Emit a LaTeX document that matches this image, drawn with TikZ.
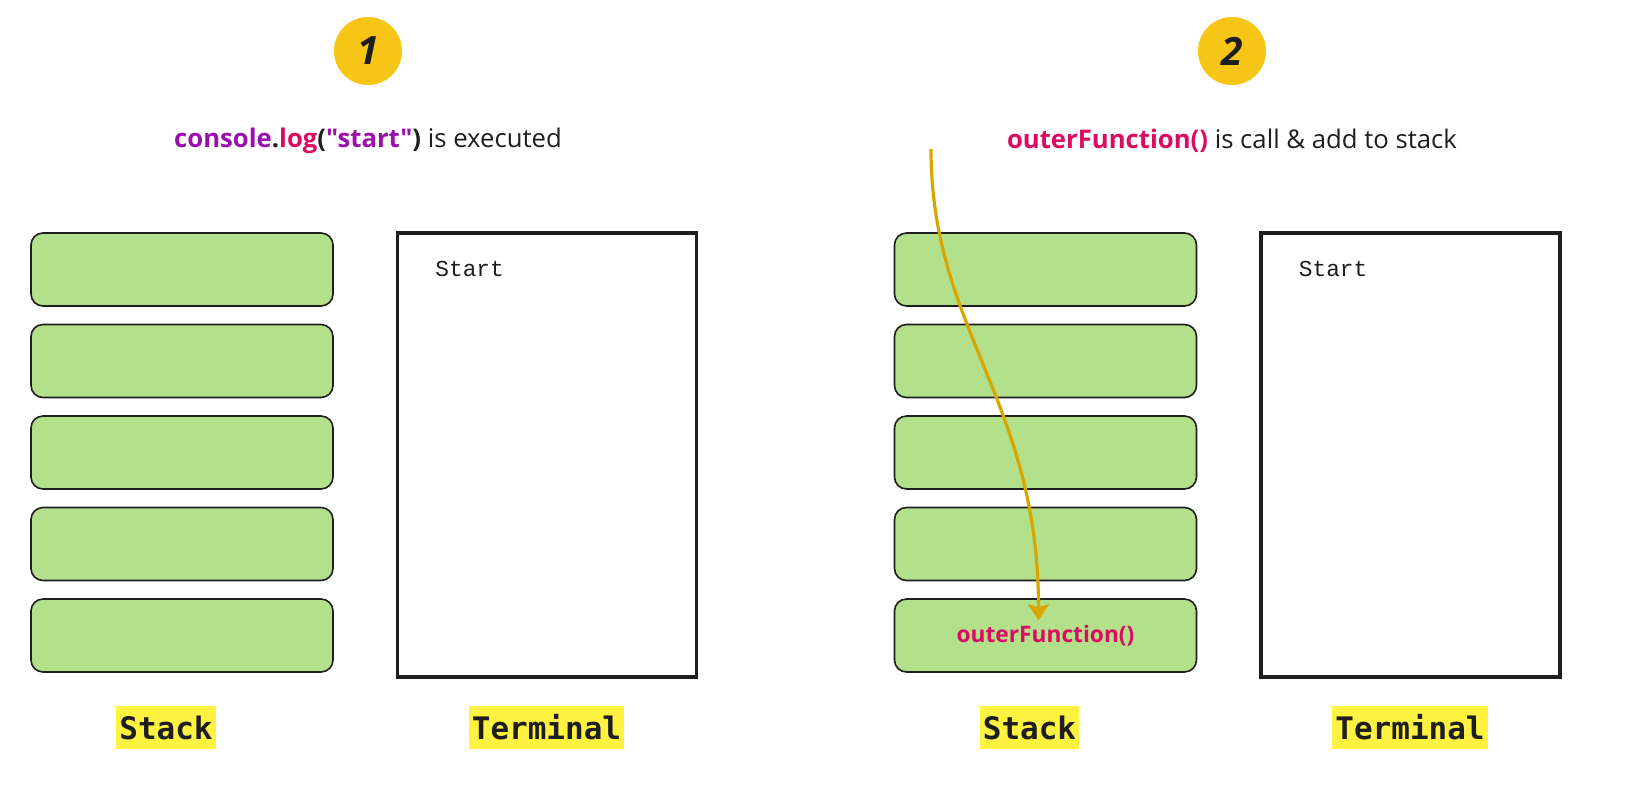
\documentclass[tikz,border=0pt]{standalone}
\usepackage{fontspec}
\setmainfont{Open Sans}[Ligatures=TeXOff]
\newfontfamily\termfont{Liberation Mono}
\newfontfamily\capfont{DejaVu Sans Mono}
\usepackage{xcolor}
\usetikzlibrary{arrows.meta, positioning}

\definecolor{StackGreen}{HTML}{B3E08A}
\definecolor{MarkYellow}{HTML}{FFF240}
\definecolor{StepGold}{HTML}{F7C516}
\definecolor{CodePurple}{HTML}{9A10AA}
\definecolor{CodeRed}{HTML}{DE0A62}
\definecolor{ArrowGold}{HTML}{D9A600}
\definecolor{Ink}{HTML}{1E1E1E}

\begin{document}
\begin{tikzpicture}[x=0.5pt,y=-0.5pt,node distance=45.75pt,on grid,>={Stealth[round]},
        stackbox/.style={draw=Ink,line width=0.8pt,fill=StackGreen,rounded corners=6pt,
          minimum width=151pt,minimum height=36.5pt,inner sep=0pt},
        termbox/.style={draw=Ink,line width=1.6pt,minimum width=149.5pt,minimum height=222pt,inner sep=0pt},
        stepnum/.style={circle,fill=StepGold,minimum size=34pt,inner sep=0pt,
          font=\fontsize{19.5}{19.5}\selectfont\bfseries\itshape,text=Ink},
        heading/.style={font=\fontsize{12.85}{15}\selectfont,text=Ink,inner sep=0pt},
        termtext/.style={font=\termfont\fontsize{11.4}{13}\selectfont,text=Ink,inner sep=0pt,anchor=west},
        caption/.style={fill=MarkYellow,font=\capfont\bfseries\fontsize{15.5}{16}\selectfont,text=Ink,
          inner xsep=1.5pt,inner ysep=0pt,minimum height=21.5pt},
        flow/.style={draw=ArrowGold,line width=1.6pt,-{Stealth[length=8pt,width=10.5pt,inset=1.5pt]}}]

      \useasboundingbox (0,0) rectangle (1629,789);

      % step 1
      \node[stepnum] (n_1) at (368,51) {1};
      \node[heading] (h_1) at (368,141) {{\bfseries\color{CodePurple}console}{\bfseries .}{\bfseries\color{CodeRed}log}{\bfseries (}{\bfseries\color{CodePurple}"start"}{\bfseries )} is executed};

      \node[stackbox] (s_1) at (182,269.5) {};
      \node[stackbox] (s_2) [below=of s_1] {};
      \node[stackbox] (s_3) [below=of s_2] {};
      \node[stackbox] (s_4) [below=of s_3] {};
      \node[stackbox] (s_5) [below=of s_4] {};

      \node[termbox] (t_1) at (547,455) {};
      \node[termtext] (o_1) at (435,269) {Start};

      \node[caption] (c_1) at (166,727.5) {Stack};
      \node[caption] (d_1) at (546.5,727.5) {Terminal};

      % step 2
      \node[stepnum] (n_2) at (1232,51) {2};
      \node[heading] (h_2) at (1232,141) {{\bfseries\color{CodeRed}outerFunction()} is call \& add to stack};

      \node[stackbox] (r_1) at (1045.5,269.5) {};
      \node[stackbox] (r_2) [below=of r_1] {};
      \node[stackbox] (r_3) [below=of r_2] {};
      \node[stackbox] (r_4) [below=of r_3] {};
      \node[stackbox,font=\fontsize{11.35}{13}\selectfont\bfseries,text=CodeRed] (r_5) [below=of r_4] {outerFunction()};

      \node[termbox] (t_2) at (1410.5,455) {};
      \node[termtext] (o_2) at (1298.5,269) {Start};

      \node[caption] (c_2) at (1029.5,727.5) {Stack};
      \node[caption] (d_2) at (1410,727.5) {Terminal};

      \coordinate (src) at (931,149);
      \draw[flow] (src) .. controls +(0,181) and +(0,-220) .. ([xshift=-3.5pt,yshift=-11pt]r_5.north);
    \end{tikzpicture}
\end{document}
